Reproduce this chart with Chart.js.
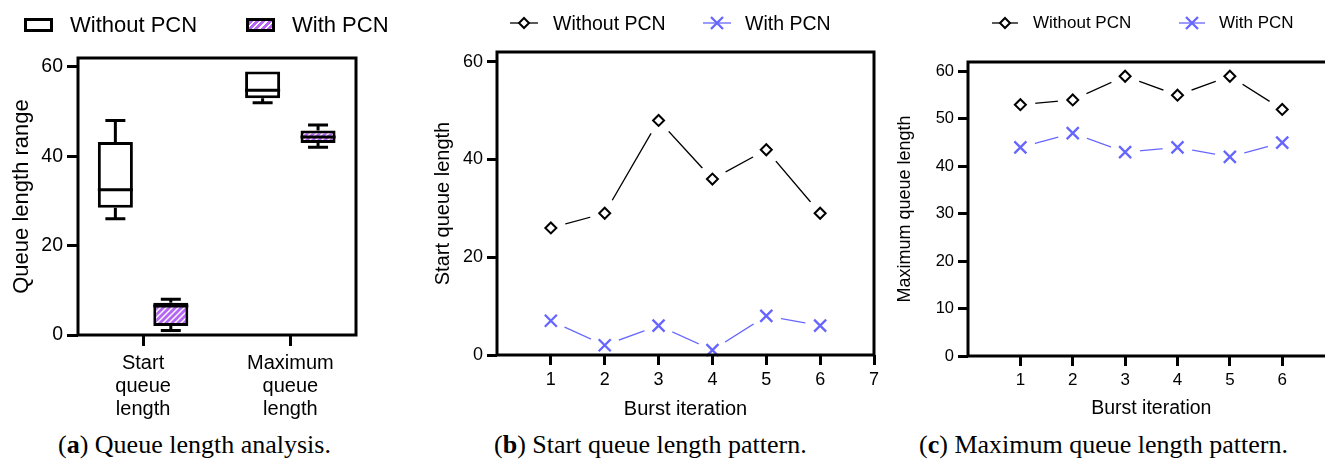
<!DOCTYPE html>
<html>
<head>
<meta charset="utf-8">
<script src="https://cdn.jsdelivr.net/npm/chart.js@4.4.1/dist/chart.umd.min.js"></script>
<style>
html,body{margin:0;padding:0;background:#fff;width:1325px;height:465px;overflow:hidden;}
body{position:relative;font-family:"Liberation Sans",Arial,sans-serif;}
canvas{position:absolute;top:0;}
.leg{position:absolute;font-family:"Liberation Sans",Arial,sans-serif;color:#000;white-space:nowrap;}
.ico{position:absolute;}
.cap{position:absolute;top:432px;font-family:"Liberation Serif","DejaVu Serif",serif;font-size:26px;line-height:26px;color:#000;white-space:nowrap;}
</style>
</head>
<body>
<canvas id="cA" width="420" height="425" style="left:0px;width:420px;height:425px"></canvas>
<canvas id="cB" width="480" height="425" style="left:420px;width:480px;height:425px"></canvas>
<canvas id="cC" width="480" height="425" style="left:880px;width:480px;height:425px"></canvas>

<!-- legend panel a -->
<div class="ico" style="left:24px;top:18px;width:29px;height:14px;border:3px solid #000;box-sizing:border-box;background:#fff"></div>
<div class="leg" style="left:70px;top:14px;font-size:22px;line-height:22px">Without PCN</div>
<div class="ico" style="left:246px;top:18px;width:29px;height:14px;border:3px solid #000;box-sizing:border-box;background:repeating-linear-gradient(135deg,#b566f2 0px,#b566f2 3px,#ffffff 3px,#ffffff 4.5px)"></div>
<div class="leg" style="left:292px;top:14px;font-size:22px;line-height:22px">With PCN</div>

<!-- legend panel b -->
<svg class="ico" style="left:509px;top:14px" width="30" height="18"><line x1="1" y1="9" x2="29" y2="9" stroke="#000" stroke-width="1.3"/><path d="M15 4 L20 9 L15 14 L10 9 Z" fill="#fff" stroke="#000" stroke-width="2"/></svg>
<div class="leg" style="left:553px;top:14px;font-size:19.5px;line-height:19.5px">Without PCN</div>
<svg class="ico" style="left:702px;top:14px" width="30" height="18"><line x1="1" y1="9" x2="29" y2="9" stroke="#6666ff" stroke-width="1.3"/><path d="M9 3 L21 15 M21 3 L9 15" stroke="#6666ff" stroke-width="2.3"/></svg>
<div class="leg" style="left:745px;top:14px;font-size:19.5px;line-height:19.5px">With PCN</div>

<!-- legend panel c -->
<svg class="ico" style="left:991px;top:14px" width="28" height="18"><line x1="1" y1="9" x2="27" y2="9" stroke="#000" stroke-width="1.3"/><path d="M14 4 L19 9 L14 14 L9 9 Z" fill="#fff" stroke="#000" stroke-width="2"/></svg>
<div class="leg" style="left:1033px;top:14px;font-size:17px;line-height:17px">Without PCN</div>
<svg class="ico" style="left:1178px;top:14px" width="28" height="18"><line x1="1" y1="9" x2="27" y2="9" stroke="#6666ff" stroke-width="1.3"/><path d="M8 3 L20 15 M20 3 L8 15" stroke="#6666ff" stroke-width="2.3"/></svg>
<div class="leg" style="left:1219px;top:14px;font-size:17px;line-height:17px">With PCN</div>

<!-- captions -->
<div class="cap" style="left:58px">(<b>a</b>) Queue length analysis.</div>
<div class="cap" style="left:494px">(<b>b</b>) Start queue length pattern.</div>
<div class="cap" style="left:919px">(<b>c</b>) Maximum queue length pattern.</div>

<script>
// ================= DATA =================
// Panel (a): box plot
const boxCategories = [["Start", "queue", "length"], ["Maximum", "queue", "length"]];
const boxPositions = [0, 1];
const withoutMin = [26, 52];
const withoutQ1 = [28.5, 53];
const withoutMedian = [32.5, 54.8];
const withoutQ3 = [43.2, 59];
const withoutMax = [48, 59];
const withMin = [1, 42];
const withQ1 = [2, 43];
const withMedian = [6.5, 44.3];
const withQ3 = [7.2, 45.8];
const withMax = [8, 47];
const rangeTicks = [0, 20, 40, 60];

// Panels (b) and (c)
const iterations = [1, 2, 3, 4, 5, 6];
const iterationTicks = [1, 2, 3, 4, 5, 6, 7];
const startWithout = [26, 29, 48, 36, 42, 29];
const startWith = [7, 2, 6, 1, 8, 6];
const startTicks = [0, 20, 40, 60];
const maxWithout = [53, 54, 59, 55, 59, 52];
const maxWith = [44, 47, 43, 44, 42, 45];
const maxTicks = [0, 10, 20, 30, 40, 50, 60];

// ================= STYLE =================
const FONT = '"Liberation Sans", Arial, sans-serif';
const BLUE = '#6666ff';
const PURPLE = '#b566f2';
Chart.defaults.font.family = FONT;
Chart.defaults.color = '#000';

function hatch() {
  const s = 6, c = document.createElement('canvas');
  c.width = s; c.height = s;
  const g = c.getContext('2d');
  g.fillStyle = PURPLE; g.fillRect(0, 0, s, s);
  g.strokeStyle = '#fff'; g.lineWidth = 1.4;
  g.beginPath();
  g.moveTo(0, s); g.lineTo(s, 0);
  g.moveTo(-1, 1); g.lineTo(1, -1);
  g.moveTo(s - 1, s + 1); g.lineTo(s + 1, s - 1);
  g.stroke();
  return g.createPattern(c, 'repeat');
}

const framePlugin = {
  id: 'frame',
  afterDatasetsDraw(chart) {
    const {ctx, chartArea: a} = chart;
    ctx.save();
    ctx.strokeStyle = '#000';
    ctx.lineWidth = 3;
    ctx.lineJoin = 'miter';
    const l = Math.round(a.left), t = Math.round(a.top), r = Math.round(a.right), b = Math.round(a.bottom);
    ctx.strokeRect(l, t, r - l, b - t);
    ctx.restore();
  }
};

const boxPlugin = {
  id: 'boxWhiskers',
  afterDatasetsDraw(chart) {
    const ctx = chart.ctx, ys = chart.scales.y;
    const stats = [
      {min: withoutMin, med: withoutMedian, max: withoutMax, q1: withoutQ1, q3: withoutQ3},
      {min: withMin, med: withMedian, max: withMax, q1: withQ1, q3: withQ3}
    ];
    ctx.save();
    ctx.strokeStyle = '#000';
    ctx.lineWidth = 3;
    ctx.lineCap = 'butt';
    stats.forEach((s, di) => {
      chart.getDatasetMeta(di).data.forEach((bar, i) => {
        const {x, width} = bar.getProps(['x', 'width'], true);
        const yMed = ys.getPixelForValue(s.med[i]);
        const yMax = ys.getPixelForValue(s.max[i]);
        const yMin = ys.getPixelForValue(s.min[i]);
        const yQ1 = ys.getPixelForValue(s.q1[i]);
        const yQ3 = ys.getPixelForValue(s.q3[i]);
        ctx.beginPath();
        ctx.moveTo(x - width / 2, yMed); ctx.lineTo(x + width / 2, yMed);
        if (yQ3 - yMax > 1) {
          ctx.moveTo(x, yQ3); ctx.lineTo(x, yMax);
          ctx.moveTo(x - 10, yMax); ctx.lineTo(x + 10, yMax);
        }
        if (yMin - yQ1 > 1) {
          ctx.moveTo(x, yQ1); ctx.lineTo(x, yMin);
          ctx.moveTo(x - 10, yMin); ctx.lineTo(x + 10, yMin);
        }
        ctx.stroke();
      });
    });
    ctx.restore();
  }
};

function yAxis(ticksArr, width, tickFont, tickLen, title, titleSize, titlePad) {
  return {
    type: 'linear', min: 0, max: 62,
    afterBuildTicks: s => { s.ticks = ticksArr.map(v => ({value: v})); },
    afterFit: s => { s.width = width; },
    border: {display: false},
    grid: {display: true, drawOnChartArea: false, drawTicks: true, tickLength: tickLen, tickWidth: 3, tickColor: '#000'},
    ticks: {color: '#000', font: {family: FONT, size: tickFont}, padding: 4},
    title: {display: true, text: title, color: '#000', font: {family: FONT, size: titleSize}, padding: {top: titlePad, bottom: 0}}
  };
}

// ================= PANEL A =================
new Chart(document.getElementById('cA'), {
  type: 'bar',
  data: {
    datasets: [
      {
        label: 'Without PCN',
        data: boxPositions.map((x, i) => ({x: x, y: [withoutQ1[i], withoutQ3[i]]})),
        backgroundColor: '#fff', borderColor: '#000', borderWidth: 3, borderSkipped: false,
        categoryPercentage: 0.753, barPercentage: 0.632
      },
      {
        label: 'With PCN',
        data: boxPositions.map((x, i) => ({x: x, y: [withQ1[i], withQ3[i]]})),
        backgroundColor: hatch(), borderColor: '#000', borderWidth: 3, borderSkipped: false,
        categoryPercentage: 0.753, barPercentage: 0.632
      }
    ]
  },
  options: {
    responsive: false, animation: false,
    layout: {padding: {left: 0, top: 58, right: 64, bottom: 0}},
    plugins: {legend: {display: false}, tooltip: {enabled: false}},
    scales: {
      x: {
        type: 'linear', min: -0.442, max: 1.446, offset: false,
        afterBuildTicks: s => { s.ticks = boxPositions.map(v => ({value: v})); },
        afterFit: s => { s.height = 90; },
        border: {display: false},
        grid: {display: true, drawOnChartArea: false, drawTicks: true, tickLength: 11, tickWidth: 3, tickColor: '#000', offset: false},
        ticks: {
          color: '#000', font: {family: FONT, size: 20, lineHeight: 1.15}, padding: 6,
          maxRotation: 0, autoSkip: false,
          callback: v => boxCategories[boxPositions.indexOf(v)]
        }
      },
      y: yAxis(rangeTicks, 78, 19.5, 11, 'Queue length range', 22, 8.8)
    }
  },
  plugins: [boxPlugin, framePlugin]
});

// ================= PANELS B & C =================
function lineChart(id, withoutVals, withVals, yTicks, o) {
  const pts = vals => iterations.map((x, i) => ({x: x, y: vals[i]}));
  return new Chart(document.getElementById(id), {
    type: 'line',
    data: {
      datasets: [
        {label: 'Without PCN', data: pts(withoutVals), borderColor: '#000', borderWidth: 1.3, pointRadius: 0, order: 3, clip: 0},
        {label: 'With PCN', data: pts(withVals), borderColor: BLUE, borderWidth: 1.3, pointRadius: 0, order: 3, clip: 0},
        {label: 'gap1', data: pts(withoutVals), showLine: false, pointRadius: 15, pointBackgroundColor: '#fff', pointBorderWidth: 0, order: 2, clip: 0},
        {label: 'gap2', data: pts(withVals), showLine: false, pointRadius: 15, pointBackgroundColor: '#fff', pointBorderWidth: 0, order: 2, clip: 0},
        {label: 'm1', data: pts(withoutVals), showLine: false, pointStyle: 'rectRot', pointRadius: 5.5, pointBorderWidth: 2, pointBorderColor: '#000', pointBackgroundColor: '#fff', order: 1, clip: false},
        {label: 'm2', data: pts(withVals), showLine: false, pointStyle: 'crossRot', pointRadius: 8.5, pointBorderWidth: 2.3, pointBorderColor: BLUE, pointBackgroundColor: BLUE, order: 1, clip: false}
      ]
    },
    options: {
      responsive: false, animation: false,
      layout: {padding: {left: 0, top: o.top, right: o.right, bottom: 0}},
      plugins: {legend: {display: false}, tooltip: {enabled: false}},
      scales: {
        x: {
          type: 'linear', min: 0, max: 7,
          afterBuildTicks: s => { s.ticks = iterationTicks.map(v => ({value: v})); },
          afterFit: s => { s.height = o.xHeight; },
          border: {display: false},
          grid: {display: true, drawOnChartArea: false, drawTicks: true, tickLength: 10, tickWidth: 3, tickColor: '#000'},
          ticks: {color: '#000', font: {family: FONT, size: o.xTickFont}, padding: 4, maxRotation: 0, autoSkip: false},
          title: {display: true, text: 'Burst iteration', color: '#000', font: {family: FONT, size: o.xTitleFont}, padding: {top: 4, bottom: o.xTitlePad}}
        },
        y: yAxis(yTicks, o.yWidth, o.yTickFont, 10, o.yTitle, o.yTitleFont, o.yTitlePad)
      }
    },
    plugins: [framePlugin]
  });
}

lineChart('cB', startWithout, startWith, startTicks, {
  top: 52, right: 26, xHeight: 70, yWidth: 77,
  xTickFont: 18, xTitleFont: 20, xTitlePad: 4,
  yTickFont: 18, yTitle: 'Start queue length', yTitleFont: 20, yTitlePad: 11
});

lineChart('cC', maxWithout, maxWith, maxTicks, {
  top: 62, right: 25.4, xHeight: 69, yWidth: 88,
  xTickFont: 17, xTitleFont: 19.5, xTitlePad: 4.3,
  yTickFont: 16.5, yTitle: 'Maximum queue length', yTitleFont: 18, yTitlePad: 14
});
</script>
</body>
</html>
